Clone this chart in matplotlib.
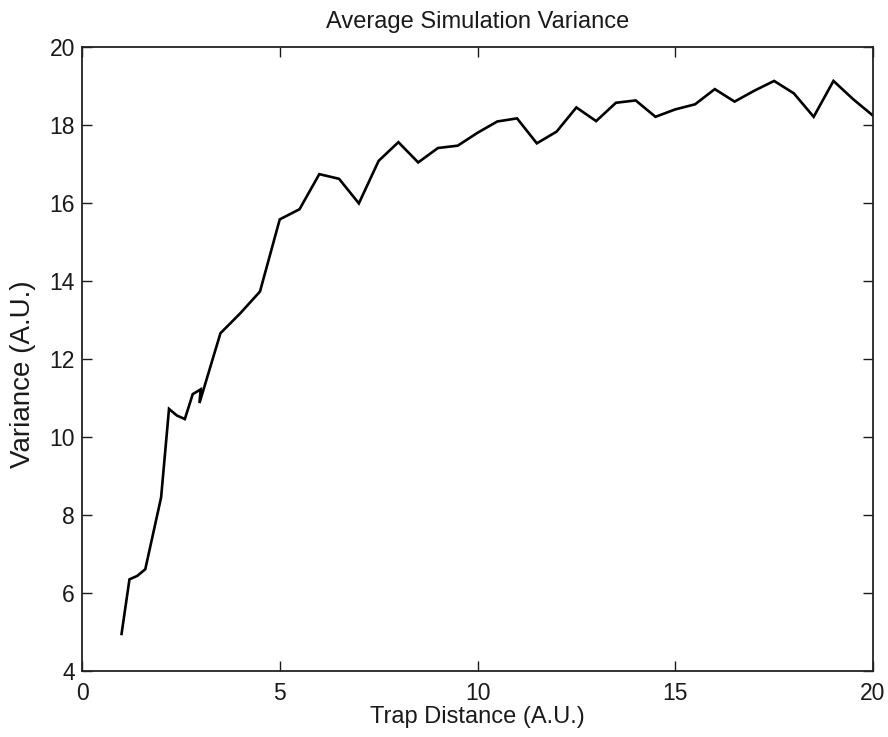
import matplotlib
matplotlib.use("Agg")
from matplotlib import pyplot as plt

# trap distance vs. mean variance over the simulation runs
trap_distance = [1.0, 1.2, 1.4, 1.6, 2.0, 2.2, 2.4, 2.6, 2.8, 3.0, 2.97,
                 3.5, 4.0, 4.5, 5.0, 5.5, 6.0, 6.5, 7.0, 7.5, 8.0, 8.5,
                 9.0, 9.5, 10.0, 10.5, 11.0, 11.5, 12.0, 12.5, 13.0, 13.5,
                 14.0, 14.5, 15.0, 15.5, 16.0, 16.5, 17.0, 17.5, 18.0, 18.5,
                 19.0, 19.5, 20.0]
variance = [4.95, 6.35, 6.44, 6.61, 8.45, 10.72, 10.55, 10.46, 11.10, 11.22, 10.87,
            12.66, 13.17, 13.73, 15.58, 15.84, 16.74, 16.62, 15.99, 17.08, 17.56, 17.04,
            17.41, 17.47, 17.80, 18.09, 18.17, 17.53, 17.83, 18.45, 18.10, 18.57,
            18.63, 18.21, 18.40, 18.53, 18.92, 18.60, 18.88, 19.13, 18.81, 18.21,
            19.13, 18.66, 18.24]

xticks = [0, 5, 10, 15, 20]
yticks = [4, 6, 8, 10, 12, 14, 16, 18, 20]

plt.rcParams['font.family'] = ['Liberation Sans', 'DejaVu Sans']
txt = '#1a1a1a'

fig = plt.figure(figsize=(8.88, 7.37), dpi=100)
ax = fig.add_axes([82/888, 1 - 671/737, (873 - 82)/888, (671 - 47)/737])

ax.plot(trap_distance, variance, color='black', lw=1.9, solid_joinstyle='miter')

ax.set_xlim(0, 20)
ax.set_ylim(4, 20)
ax.set_xticks(xticks)
ax.set_yticks(yticks)
ax.tick_params(direction='in', length=7, width=1.0, top=True, right=True,
               labelsize=16.5, colors=txt, pad=5)
ax.tick_params(axis='x', pad=8)
for s in ax.spines.values():
    s.set_linewidth(1.3)
    s.set_color('#222222')

ax.set_title('Average Simulation Variance', fontsize=17, color=txt, pad=14)
ax.set_xlabel('Trap Distance (A.U.)', fontsize=17, color=txt, labelpad=1)
ax.set_ylabel('Variance (A.U.)', fontsize=20, color=txt, labelpad=4)
ax.yaxis.set_label_coords(-0.058, 0.475)

fig.savefig('out.png', dpi=100)
